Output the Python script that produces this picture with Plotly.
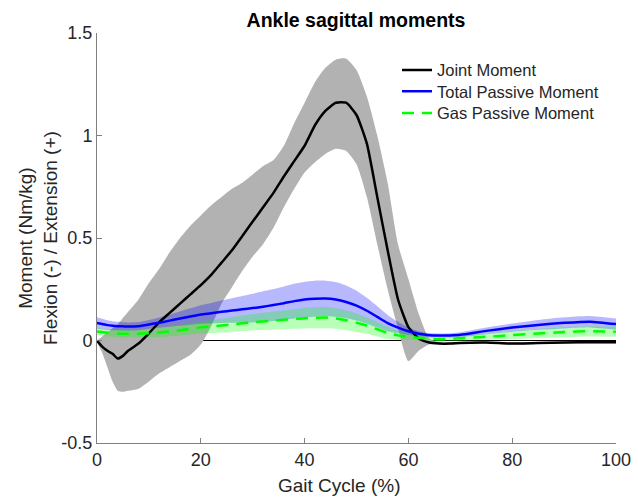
import plotly.graph_objects as go

# ---------------- data ----------------
gait = [0, 1, 2, 3, 4, 5, 6, 8, 10, 12, 14, 16, 18, 20, 22, 24, 26, 28, 30, 32, 34, 36, 38, 40,
        42, 44, 46, 48, 50, 52, 54, 56, 58, 60, 62, 64, 66, 68, 70, 75, 80, 85, 90, 95, 100]

joint_mean = [0.0, -0.03, -0.05, -0.065, -0.088, -0.075, -0.05, -0.015, 0.035, 0.09, 0.135, 0.18,
              0.225, 0.27, 0.32, 0.38, 0.44, 0.51, 0.58, 0.65, 0.72, 0.80, 0.875, 0.95,
              1.05, 1.12, 1.16, 1.16, 1.10, 0.96, 0.70, 0.44, 0.20, 0.065, 0.01, -0.01,
              -0.015, -0.015, -0.012, -0.01, -0.015, -0.012, -0.01, -0.008, -0.008]
joint_upper = [0.0, 0.02, 0.04, 0.06, 0.08, 0.11, 0.14, 0.20, 0.28, 0.35, 0.43, 0.50,
               0.56, 0.61, 0.66, 0.70, 0.74, 0.77, 0.81, 0.85, 0.88, 0.95, 1.06, 1.16,
               1.26, 1.33, 1.37, 1.375, 1.32, 1.19, 1.00, 0.77, 0.47, 0.30, 0.13, 0.01,
               -0.008, -0.01, -0.007, -0.005, -0.01, -0.007, -0.005, -0.003, -0.003]
joint_lower = [-0.01, -0.06, -0.13, -0.20, -0.245, -0.25, -0.245, -0.235, -0.20, -0.16, -0.13, -0.10,
               -0.07, -0.02, 0.07, 0.18, 0.26, 0.34, 0.41, 0.47, 0.55, 0.65, 0.74, 0.82,
               0.87, 0.91, 0.935, 0.925, 0.86, 0.70, 0.47, 0.25, 0.06, -0.10, -0.05, -0.02,
               -0.02, -0.02, -0.017, -0.015, -0.02, -0.017, -0.015, -0.013, -0.013]

total_mean = [0.085, 0.08, 0.075, 0.072, 0.07, 0.069, 0.068, 0.07, 0.078, 0.087, 0.097, 0.107,
              0.117, 0.127, 0.133, 0.14, 0.146, 0.152, 0.158, 0.165, 0.173, 0.182, 0.192, 0.20,
              0.204, 0.205, 0.20, 0.188, 0.17, 0.145, 0.115, 0.085, 0.063, 0.045, 0.033, 0.026,
              0.024, 0.025, 0.028, 0.047, 0.063, 0.076, 0.086, 0.092, 0.08]
total_sd = [0.028, 0.026, 0.024, 0.022, 0.021, 0.02, 0.02, 0.02, 0.022, 0.025, 0.03, 0.035,
            0.04, 0.045, 0.05, 0.055, 0.06, 0.065, 0.07, 0.075, 0.078, 0.082, 0.085, 0.087,
            0.088, 0.087, 0.085, 0.08, 0.073, 0.063, 0.052, 0.04, 0.028, 0.018, 0.012, 0.01,
            0.01, 0.01, 0.012, 0.016, 0.02, 0.024, 0.027, 0.028, 0.027]

gas_mean = [0.044, 0.041, 0.038, 0.036, 0.034, 0.033, 0.033, 0.033, 0.035, 0.039, 0.044, 0.05,
            0.057, 0.064, 0.068, 0.073, 0.078, 0.084, 0.089, 0.093, 0.097, 0.101, 0.105, 0.109,
            0.111, 0.112, 0.108, 0.099, 0.087, 0.073, 0.055, 0.037, 0.025, 0.019, 0.013, 0.009,
            0.006, 0.008, 0.011, 0.018, 0.026, 0.034, 0.041, 0.045, 0.043]
gas_sd = [0.018, 0.018, 0.018, 0.018, 0.018, 0.018, 0.018, 0.019, 0.02, 0.022, 0.024, 0.026,
          0.028, 0.03, 0.032, 0.034, 0.036, 0.038, 0.04, 0.042, 0.044, 0.046, 0.048, 0.05,
          0.051, 0.052, 0.051, 0.049, 0.045, 0.04, 0.035, 0.03, 0.022, 0.015, 0.012, 0.01,
          0.01, 0.011, 0.012, 0.016, 0.02, 0.022, 0.025, 0.025, 0.025]

x_ticks = [0, 20, 40, 60, 80, 100]
y_ticks = [-0.5, 0, 0.5, 1, 1.5]
y_tick_labels = ["-0.5", "0", "0.5", "1", "1.5"]

title_text = "Ankle sagittal moments"
x_title = "Gait Cycle (%)"
y_title = "Moment (Nm/kg)<br>Flexion (-) / Extension (+)"

# ---------------- figure ----------------
FONT = "Liberation Sans, Arial, sans-serif"
TXT = "#262626"
AX = "#808080"

fig = go.Figure()

def band(upper, lower, color):
    fig.add_trace(go.Scatter(x=gait, y=upper, mode="lines", line=dict(width=0, shape="spline", smoothing=0.6),
                             showlegend=False, hoverinfo="skip"))
    fig.add_trace(go.Scatter(x=gait, y=lower, mode="lines", line=dict(width=0, shape="spline", smoothing=0.6),
                             fill="tonexty", fillcolor=color, showlegend=False, hoverinfo="skip"))

band(joint_upper, joint_lower, "rgb(178,178,178)")
band([m + s for m, s in zip(total_mean, total_sd)], [m - s for m, s in zip(total_mean, total_sd)],
     "rgba(0,0,255,0.28)")
band([m + s for m, s in zip(gas_mean, gas_sd)], [m - s for m, s in zip(gas_mean, gas_sd)],
     "rgba(0,255,0,0.28)")

fig.add_trace(go.Scatter(x=gait, y=joint_mean, mode="lines", name="Joint Moment", legend="legend",
                         line=dict(color="black", width=2.5, shape="spline", smoothing=0.5)))
fig.add_trace(go.Scatter(x=gait, y=total_mean, mode="lines", name="Total Passive Moment", legend="legend2",
                         line=dict(color="rgb(0,0,255)", width=2.5, shape="spline", smoothing=0.6)))
fig.add_trace(go.Scatter(x=gait, y=gas_mean, mode="lines", name="Gas Passive Moment", legend="legend3",
                         line=dict(color="rgb(0,255,0)", width=2.5, dash="12px,8px", shape="spline", smoothing=0.6)))

legend_common = dict(x=0.578, xanchor="left", yanchor="top", bgcolor="rgba(0,0,0,0)",
                     font=dict(size=16.5, color=TXT, family=FONT))

fig.update_layout(
    width=638, height=498,
    margin=dict(l=97, r=22, t=33, b=55, autoexpand=False),
    paper_bgcolor="white", plot_bgcolor="white",
    font=dict(family=FONT, color=TXT),
    title=dict(text="<b>" + title_text + "</b>", x=356 / 638, xanchor="center",
               y=1 - 20 / 498, yanchor="middle", yref="container",
               font=dict(size=19.5, color="black", family=FONT)),
    legend=dict(y=0.952, **legend_common),
    legend2=dict(y=0.900, **legend_common),
    legend3=dict(y=0.847, **legend_common),
    showlegend=True,
)

fig.update_xaxes(range=[0, 100], tickvals=x_ticks, ticks="inside", ticklen=5, tickcolor=AX,
                 showline=True, linecolor=AX, linewidth=1, showgrid=False, zeroline=False,
                 automargin=False,
                 tickfont=dict(size=18, color=TXT, family=FONT))
fig.update_yaxes(range=[-0.5, 1.5], tickvals=y_ticks, ticktext=y_tick_labels, ticks="inside", ticklen=5,
                 tickcolor=AX, showline=True, linecolor=AX, linewidth=1, showgrid=False,
                 zeroline=True, zerolinecolor="black", zerolinewidth=1, automargin=False,
                 tickfont=dict(size=18, color=TXT, family=FONT))

# axis titles as annotations (placed like the reference)
fig.add_annotation(text=y_title, textangle=-90, xref="paper", yref="paper",
                   x=(38 - 97) / 519, y=(443 - 238) / 410, xanchor="center", yanchor="middle",
                   showarrow=False, font=dict(size=19, color=TXT, family=FONT))
fig.add_annotation(text=x_title, xref="paper", yref="paper",
                   x=(338.5 - 97) / 519, y=(443 - 485) / 410, xanchor="center", yanchor="middle",
                   showarrow=False, font=dict(size=19, color=TXT, family=FONT))

fig.write_html("out.html", config={"displayModeBar": False},
               post_script="document.body.style.margin='0px';")
